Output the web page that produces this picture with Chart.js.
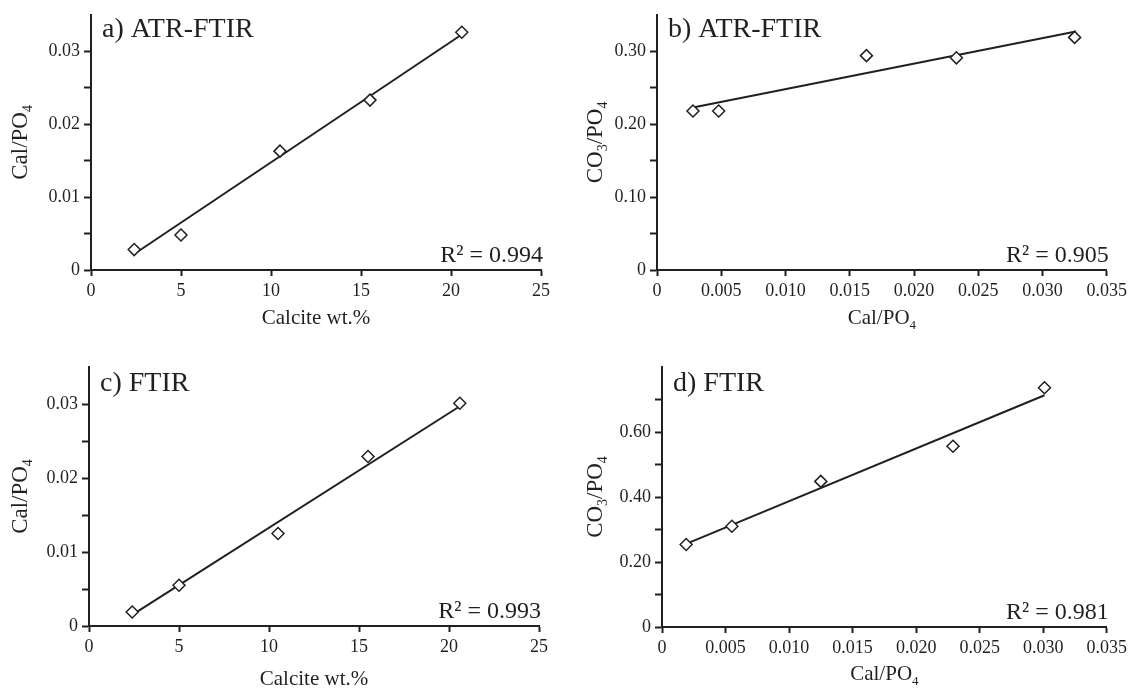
<!DOCTYPE html>
<html>
<head>
<meta charset="utf-8">
<title>Calcite calibration – ATR-FTIR and FTIR</title>
<script src="https://cdn.jsdelivr.net/npm/chart.js@4.4.1/dist/chart.umd.min.js"></script>
<style>
  body { margin: 0; background: #fff; }
  #wrap { position: relative; width: 1131px; height: 691px; overflow: hidden; }
  .panel { position: absolute; }
</style>
</head>
<body>
<div id="wrap">
  <div class="panel" style="left:0;top:0;width:570px;height:340px"><canvas id="chartA"></canvas></div>
  <div class="panel" style="left:570px;top:0;width:561px;height:340px"><canvas id="chartB"></canvas></div>
  <div class="panel" style="left:0;top:340px;width:570px;height:351px"><canvas id="chartC"></canvas></div>
  <div class="panel" style="left:570px;top:340px;width:561px;height:351px"><canvas id="chartD"></canvas></div>
</div>
<script>
// values
const calciteA = [2.4, 5.0, 10.5, 15.5, 20.6];
const calPo4A = [0.0028, 0.0048, 0.0163, 0.0233, 0.0326];
const fitXA = [2.4, 20.6];
const fitYA = [0.0022, 0.0323];

const calPo4B = [0.0028, 0.0048, 0.0163, 0.0233, 0.0325];
const co3Po4B = [0.218, 0.218, 0.294, 0.291, 0.319];
const fitXB = [0.0028, 0.0326];
const fitYB = [0.223, 0.327];

const calciteC = [2.4, 5.0, 10.5, 15.5, 20.6];
const calPo4C = [0.0019, 0.0055, 0.0125, 0.0229, 0.0301];
const fitXC = [2.4, 20.6];
const fitYC = [0.0015, 0.0297];

const calPo4D = [0.0019, 0.0055, 0.0125, 0.0229, 0.0301];
const co3Po4D = [0.254, 0.310, 0.448, 0.556, 0.736];
const fitXD = [0.0019, 0.0301];
const fitYD = [0.256, 0.713];

// tick positions and labels
const pctTicks = [0, 5, 10, 15, 20, 25];
const pctLabels = ['0', '5', '10', '15', '20', '25'];
const ratioTicks = [0, 0.005, 0.010, 0.015, 0.020, 0.025, 0.030, 0.035];
const ratioLabels = ['0', '0.005', '0.010', '0.015', '0.020', '0.025', '0.030', '0.035'];
const calYTicks = [0, 0.005, 0.010, 0.015, 0.020, 0.025, 0.030, 0.035];
const calYLabels = ['0', '', '0.01', '', '0.02', '', '0.03', ''];
const co3YTicksB = [0, 0.05, 0.10, 0.15, 0.20, 0.25, 0.30, 0.35];
const co3YLabelsB = ['0', '', '0.10', '', '0.20', '', '0.30', ''];
const co3YTicksD = [0, 0.1, 0.2, 0.3, 0.4, 0.5, 0.6, 0.7, 0.8];
const co3YLabelsD = ['0', '', '0.20', '', '0.40', '', '0.60', '', ''];

const ink = '#231f20';
const serif = '"Liberation Serif", "Times New Roman", serif';

// text with subscripts: parts = [[text, isSub], ...]
function drawParts(ctx, parts, cx, y, size) {
    const subSize = Math.round(size * 0.6);
    let total = 0;
    parts.forEach(p => {
        ctx.font = (p[1] ? subSize : size) + 'px ' + serif;
        total += ctx.measureText(p[0]).width;
    });
    let x = cx - total / 2;
    ctx.textAlign = 'left';
    parts.forEach(p => {
        ctx.font = (p[1] ? subSize : size) + 'px ' + serif;
        ctx.fillText(p[0], x, p[1] ? y + size * 0.22 : y);
        x += ctx.measureText(p[0]).width;
    });
}

const annotate = {
    id: 'annotate',
    afterDraw(chart, args, o) {
        const { ctx, chartArea: a } = chart;
        ctx.save();
        ctx.fillStyle = ink;
        ctx.textBaseline = 'alphabetic';

        ctx.font = '28px ' + serif;
        ctx.textAlign = 'left';
        ctx.fillText(o.title, a.left + 11, a.top + o.titleDy);

        ctx.font = '24px ' + serif;
        ctx.textAlign = 'right';
        ctx.fillText(o.r2, a.right + 2, a.bottom - 8);

        drawParts(ctx, o.xTitle, (a.left + a.right) / 2, a.bottom + o.xTitleDy, 21);

        ctx.translate(o.yTitleX, (a.top + a.bottom) / 2);
        ctx.rotate(-Math.PI / 2);
        drawParts(ctx, o.yTitle, 0, 0, 23);
        ctx.restore();
    }
};

function makeChart(id, p) {
    const tickFont = { family: serif, size: 18 };
    const lastY = p.yTicks.length - 1;
    return new Chart(document.getElementById(id), {
        type: 'scatter',
        data: {
            datasets: [
                {
                    data: p.xs.map((x, i) => ({ x, y: p.ys[i] })),
                    pointStyle: 'rectRot',
                    pointRadius: 6,
                    pointBorderWidth: 1.5,
                    pointBackgroundColor: '#fff',
                    pointBorderColor: ink
                },
                {
                    data: p.fitX.map((x, i) => ({ x, y: p.fitY[i] })),
                    showLine: true,
                    borderColor: ink,
                    borderWidth: 2,
                    pointRadius: 0,
                    fill: false
                }
            ]
        },
        options: {
            responsive: true,
            maintainAspectRatio: false,
            animation: false,
            events: [],
            layout: { padding: { top: p.padTop, right: p.padRight, left: 0, bottom: 0 } },
            plugins: {
                legend: { display: false },
                tooltip: { enabled: false },
                annotate: {
                    title: p.title, r2: p.r2, titleDy: p.titleDy,
                    xTitle: p.xTitle, yTitle: p.yTitle,
                    xTitleDy: p.xTitleDy, yTitleX: p.yTitleX
                }
            },
            scales: {
                x: {
                    type: 'linear',
                    min: p.xTicks[0],
                    max: p.xTicks[p.xTicks.length - 1],
                    afterBuildTicks: s => { s.ticks = p.xTicks.map(v => ({ value: v })); },
                    afterFit: s => { s.height = p.xAxisH; },
                    ticks: {
                        callback: (v, i) => p.xLabels[i],
                        font: tickFont, color: ink, padding: 4,
                        maxRotation: 0, autoSkip: false
                    },
                    grid: { drawOnChartArea: false, drawTicks: true, tickLength: 6, tickWidth: 2, tickColor: ink },
                    border: { display: true, color: ink, width: 2 }
                },
                y: {
                    type: 'linear',
                    min: p.yTicks[0],
                    max: p.yTicks[lastY],
                    afterBuildTicks: s => { s.ticks = p.yTicks.map(v => ({ value: v })); },
                    afterFit: s => { s.width = p.yAxisW; },
                    ticks: {
                        callback: (v, i) => p.yLabels[i],
                        font: tickFont, color: ink, padding: 4, autoSkip: false
                    },
                    grid: {
                        drawOnChartArea: false, drawTicks: true, tickLength: 7, tickWidth: 2,
                        tickColor: ctx => ctx.index === lastY ? 'rgba(0,0,0,0)' : ink
                    },
                    border: { display: true, color: ink, width: 2 }
                }
            }
        },
        plugins: [annotate]
    });
}

const calTitle = [['Cal/PO', false], ['4', true]];
const co3Title = [['CO', false], ['3', true], ['/PO', false], ['4', true]];
const pctTitle = [['Calcite wt.%', false]];

makeChart('chartA', {
    xs: calciteA, ys: calPo4A, fitX: fitXA, fitY: fitYA,
    xTicks: pctTicks, xLabels: pctLabels, yTicks: calYTicks, yLabels: calYLabels,
    yAxisW: 91, padTop: 11, padRight: 29, xAxisH: 70,
    title: 'a) ATR-FTIR', r2: 'R² = 0.994', titleDy: 22,
    xTitle: pctTitle, yTitle: calTitle, xTitleDy: 54, yTitleX: 27
});

makeChart('chartB', {
    xs: calPo4B, ys: co3Po4B, fitX: fitXB, fitY: fitYB,
    xTicks: ratioTicks, xLabels: ratioLabels, yTicks: co3YTicksB, yLabels: co3YLabelsB,
    yAxisW: 87, padTop: 11, padRight: 24, xAxisH: 70,
    title: 'b) ATR-FTIR', r2: 'R² = 0.905', titleDy: 22,
    xTitle: calTitle, yTitle: co3Title, xTitleDy: 54, yTitleX: 32
});

makeChart('chartC', {
    xs: calciteC, ys: calPo4C, fitX: fitXC, fitY: fitYC,
    xTicks: pctTicks, xLabels: pctLabels, yTicks: calYTicks, yLabels: calYLabels,
    yAxisW: 89, padTop: 27, padRight: 31, xAxisH: 65,
    title: 'c) FTIR', r2: 'R² = 0.993', titleDy: 24,
    xTitle: pctTitle, yTitle: calTitle, xTitleDy: 59, yTitleX: 27
});

makeChart('chartD', {
    xs: calPo4D, ys: co3Po4D, fitX: fitXD, fitY: fitYD,
    xTicks: ratioTicks, xLabels: ratioLabels, yTicks: co3YTicksD, yLabels: co3YLabelsD,
    yAxisW: 92, padTop: 27, padRight: 19, xAxisH: 64,
    title: 'd) FTIR', r2: 'R² = 0.981', titleDy: 24,
    xTitle: calTitle, yTitle: co3Title, xTitleDy: 53, yTitleX: 32
});
</script>
</body>
</html>
